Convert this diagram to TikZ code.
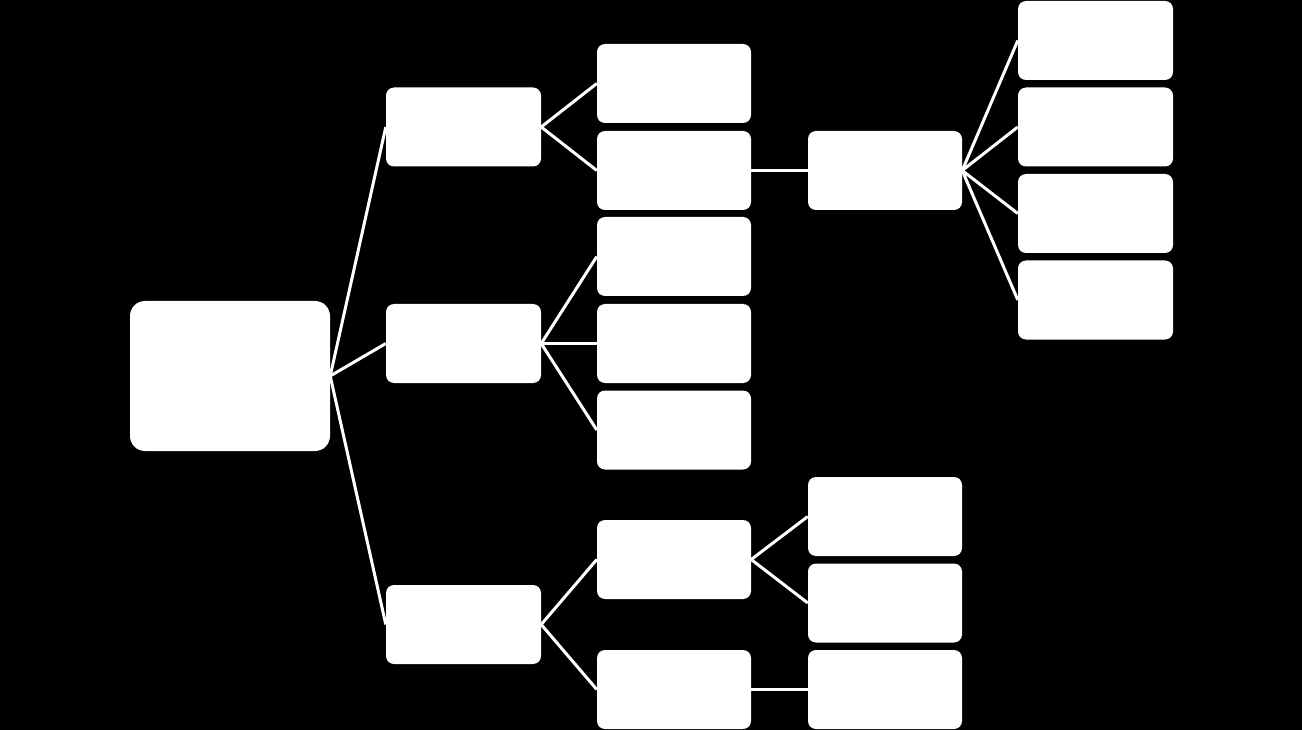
\documentclass[tikz,border=0pt]{standalone}
\begin{document}
\begin{tikzpicture}[x=1pt,y=-1pt,
  box/.style={fill=white,rounded corners=8pt,minimum width=155pt,minimum height=79pt,inner sep=0pt,draw=none},
  rootbox/.style={fill=white,rounded corners=15pt,minimum width=200pt,minimum height=150pt,inner sep=0pt,draw=none},
  link/.style={draw=white,line width=3pt}]
\fill[black] (0,0) rectangle (1302,730);
\useasboundingbox (0,0) rectangle (1302,730);
\node[rootbox] (root) at (230,376) {};
\node[box] (a) at (463.5,127) {};
\node[box] (b) at (463.5,343.5) {};
\node[box] (c) at (463.5,624.5) {};
\node[box,minimum width=154pt] (a1) at (674,83.5) {};
\node[box,minimum width=154pt] (a2) at (674,170.5) {};
\node[box,minimum width=154pt] (b1) at (674,256.5) {};
\node[box,minimum width=154pt] (b2) at (674,343.5) {};
\node[box,minimum width=154pt] (b3) at (674,430) {};
\node[box,minimum width=154pt] (c1) at (674,559.5) {};
\node[box,minimum width=154pt] (c2) at (674,689.5) {};
\node[box,minimum width=154pt] (h) at (885,170.5) {};
\node[box,minimum width=154pt] (c11) at (885,516.5) {};
\node[box,minimum width=154pt] (c12) at (885,603) {};
\node[box,minimum width=154pt] (c21) at (885,689.5) {};
\node[box] (h1) at (1095.5,40.5) {};
\node[box] (h2) at (1095.5,127) {};
\node[box] (h3) at (1095.5,213.5) {};
\node[box] (h4) at (1095.5,300) {};
\foreach \p/\c in {root/a,root/b,root/c,a/a1,a/a2,b/b1,b/b2,b/b3,c/c1,c/c2,a2/h,h/h1,h/h2,h/h3,h/h4,c1/c11,c1/c12,c2/c21}
  \draw[link] (\p.east) -- (\c.west);
\end{tikzpicture}
\end{document}
